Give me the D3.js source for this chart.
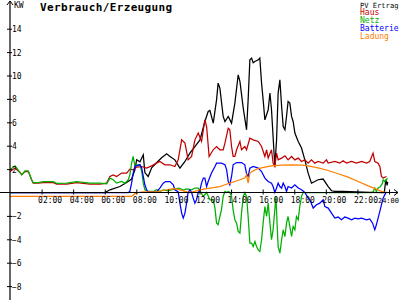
<!DOCTYPE html>
<html><head><meta charset="utf-8">
<script src="https://cdn.jsdelivr.net/npm/d3@7"></script>
<style>
html,body{margin:0;padding:0;background:#fff;overflow:hidden;}
svg{display:block;}
text{font-family:"DejaVu Sans Mono",monospace;}
</style></head>
<body>
<script>
// ---- data (hours, kW) ----
const seriesNames = ["PV Ertrag","Haus","Netz","Batterie","Ladung"];
const xTickHours = [2,4,6,8,10,12,14,16,18,20,22,24];
const xTickLabels = ["02:00","04:00","06:00","08:00","10:00","12:00","14:00","16:00","18:00","20:00","22:00","24:00"];
const yTickValues = [14,12,10,8,6,4,2,-2,-4,-6,-8];

const pvHours = [0,6.0,6.33,6.96,7.39,7.70,7.91,8.02,8.23,8.44,8.54,8.75,8.97,9.28,9.60,9.92,10.13,10.44,10.76,11.08,11.39,11.71,12.03,12.34,12.55,12.66,12.87,13.08,13.18,13.29,13.50,13.61,13.82,14.03,14.24,14.45,14.56,14.77,14.98,15.08,15.19,15.30,15.40,15.51,15.72,15.82,15.93,16.03,16.14,16.35,16.46,16.56,16.66,16.77,16.88,16.98,17.09,17.20,17.30,17.41,17.51,17.61,17.72,17.83,17.93,18.04,18.25,18.46,18.67,18.88,19.09,19.30,19.51,19.83,20.15,20.36,20.57,21.09,22.78,23.70,23.80,23.88,23.92];
const pvKw    = [0,0,0.23,0.51,0.85,1.15,1.94,2.80,2.62,3.22,1.70,1.37,2.11,2.54,2.97,3.31,3.08,2.79,2.09,2.65,3.37,3.93,4.50,6.07,6.92,7.01,5.93,7.92,9.35,8.92,6.50,6.07,6.50,5.93,7.64,10.06,9.49,7.21,5.36,7.92,11.34,11.49,11.09,11.20,11.34,11.49,9.35,7.92,6.21,7.07,8.50,7.07,4.79,2.22,4.50,8.50,9.63,7.35,5.64,5.36,6.50,7.78,7.64,6.50,6.07,5.08,4.36,3.80,2.79,1.66,0.80,0.94,1.09,1.15,0.51,0.15,0.09,0.09,0.02,0,1.1,0.6,0.9];

const hausHours = [0,0.32,0.63,0.74,0.95,1.16,1.37,1.47,1.79,2.11,2.74,2.96,3.59,4.22,5.06,5.70,6.12,6.33,6.54,6.75,7.07,7.39,7.59,7.80,8.02,8.34,8.65,8.97,9.28,9.49,9.81,10.13,10.44,10.65,10.87,11.08,11.28,11.50,11.71,11.92,12.13,12.34,12.45,12.61,12.87,13.08,13.29,13.50,13.61,13.82,13.92,14.03,14.13,14.24,14.35,14.56,14.66,14.87,14.98,15.19,15.40,15.72,15.93,16.14,16.25,16.35,16.56,16.66,16.77,16.88,16.98,17.20,17.41,17.61,17.83,18.04,18.25,18.46,18.67,18.88,19.09,19.30,19.51,19.83,20.04,20.15,20.57,20.89,21.09,21.31,21.63,21.94,22.26,22.58,22.78,22.99,23.10,23.31,23.42,23.52,23.63,23.84];
const hausKw    = [1.79,2.09,1.71,1.51,1.79,1.79,1.09,0.80,0.80,0.85,0.85,0.72,0.72,0.85,0.72,0.72,0.80,1.37,1.51,1.37,1.66,1.66,2.00,1.94,2.17,2.22,2.09,2.28,2.51,2.65,2.37,2.37,2.22,2.79,4.50,4.22,2.79,3.08,4.50,5.08,4.36,6.21,5.64,3.08,3.65,3.93,3.65,3.65,4.22,5.50,5.36,3.93,3.08,3.08,3.65,4.36,3.65,3.93,3.65,4.65,4.50,4.36,3.93,3.08,3.65,2.94,3.65,2.51,2.22,3.37,2.79,2.94,3.14,2.79,3.08,2.79,2.94,2.65,2.79,2.51,2.79,2.51,2.65,2.51,2.79,2.51,2.65,2.51,2.71,2.51,2.65,2.51,2.65,2.51,2.65,3.37,2.65,2.51,2.22,1.37,1.23,1.37];

const netzHours = [0,0.32,0.63,0.74,0.95,1.16,1.37,1.47,1.79,2.11,2.74,2.96,3.59,4.22,5.06,5.70,6.12,6.33,6.54,6.75,7.07,7.28,7.49,7.59,7.70,7.80,7.91,8.02,8.23,8.34,8.44,8.54,8.75,9.07,9.28,9.49,9.70,10.0,10.44,10.70,10.97,11.18,11.50,11.71,11.92,12.03,12.24,12.45,12.66,12.87,12.98,13.08,13.18,13.29,13.39,13.50,13.61,13.72,13.82,13.92,14.03,14.13,14.24,14.35,14.45,14.56,14.66,14.77,14.87,14.98,15.08,15.19,15.30,15.40,15.51,15.61,15.72,15.82,15.93,16.03,16.14,16.25,16.35,16.46,16.56,16.66,16.77,16.84,16.92,16.98,17.09,17.20,17.30,17.41,17.51,17.61,17.72,17.83,17.93,18.04,18.14,18.25,18.35,18.46,18.56,22.89,22.99,23.10,23.20,23.31,23.42,23.52,23.59,23.63,23.73,23.84,23.90];
const netzKw    = [1.94,2.28,1.71,1.51,1.85,1.85,1.09,0.85,0.85,0.92,0.92,0.78,0.80,0.92,0.80,0.80,0.74,1.23,1.09,0.80,0.94,0.80,1.09,1.51,2.51,3.08,2.22,2.37,2.37,1.80,0.80,0.23,0.09,0.09,0.23,0.09,0.23,0.15,0.30,0.38,0.20,0.30,0.23,0.38,0.38,0.15,-0.34,0.0,-0.62,-0.62,-1.33,-2.62,-2.76,-2.05,-1.48,-0.34,0.09,0.0,0.09,0.0,-0.34,-1.48,-2.33,-2.62,-3.33,-3.47,-1.76,-0.34,0.0,-0.34,-2.05,-4.33,-4.33,-4.62,-4.19,-4.62,-4.90,-5.04,-4.04,-2.62,-1.20,-2.05,-0.91,-2.62,-4.04,-3.19,-1.48,-0.34,-2.90,-4.62,-5.18,-4.04,-3.19,-3.76,-2.62,-2.05,-2.90,-3.76,-2.90,-3.19,-2.05,-2.33,-1.20,-0.34,0.0,0.0,0.05,0.38,0.09,0.38,0.46,0.66,0.80,1.09,0.94,1.09,1.23];

const battHours = [0,7.50,7.59,7.70,7.80,7.91,8.02,8.23,8.34,8.44,8.54,8.65,8.75,9.28,9.49,9.70,9.86,10.13,10.34,10.44,10.65,10.76,10.87,10.97,11.08,11.18,11.28,11.39,11.50,11.60,11.71,11.81,11.92,12.03,12.13,12.24,12.34,12.45,12.55,12.76,12.98,13.08,13.39,13.61,13.72,13.82,13.92,14.03,14.13,14.35,14.66,14.87,14.98,15.08,15.19,15.40,15.72,15.93,16.14,16.35,16.56,16.66,16.77,16.88,16.98,17.09,17.20,17.30,17.41,17.51,17.61,17.83,18.04,18.25,18.46,18.67,18.88,18.99,19.20,19.41,19.62,19.83,19.94,20.15,20.36,20.57,20.78,20.99,21.20,21.41,21.63,21.84,22.04,22.26,22.58,22.78,22.96,23.10,23.20,23.31,23.42,23.52,23.63,23.73,23.84];
const battKw    = [0,0,0.10,0.80,1.66,2.22,2.30,2.37,2.10,1.37,0.66,0.23,0.05,0.05,0.38,0.80,0.94,0.94,0.66,0.23,0.05,-0.91,-1.76,-2.19,-1.76,-0.91,0.0,0.23,0.0,-0.48,-0.91,-0.62,0.0,0.23,0.80,1.23,1.23,0.51,0.94,1.66,2.22,2.51,2.51,2.37,1.94,0.94,0.66,1.37,2.37,2.56,2.56,2.37,1.60,1.37,2.08,2.22,2.08,1.79,1.23,0.94,0.80,0.51,0.0,0.38,0.80,0.51,0.38,0.80,0.51,0.09,0.51,0.38,0.66,0.38,0.23,0.0,-0.48,-0.62,-1.33,-1.05,-0.91,-0.62,-1.20,-1.33,-1.76,-2.19,-2.10,-2.33,-2.10,-2.19,-2.33,-2.19,-2.26,-2.19,-2.33,-2.26,-2.62,-3.19,-2.76,-2.19,-1.62,-1.05,-0.48,-0.20,0.05];

const ladHours = [0,7.70,7.91,8.12,8.44,9.28,9.70,10.13,10.44,10.76,11.08,11.39,11.71,12.03,12.34,12.66,12.98,13.29,13.61,13.92,14.24,14.56,14.87,14.98,15.08,15.19,15.40,15.72,16.14,16.56,17.20,17.83,18.46,18.88,19.51,20.15,20.78,21.41,22.04,22.68,23.20,23.52,23.84];
const ladKw    = [-0.34,-0.34,-0.10,0.0,0.05,0.05,0.17,0.29,0.33,0.23,0.09,0.0,0.09,0.23,0.30,0.38,0.43,0.51,0.66,0.80,0.94,1.09,1.23,1.51,0.80,1.66,1.85,2.05,2.17,2.28,2.35,2.37,2.33,2.28,2.10,1.88,1.60,1.32,0.94,0.57,0.29,0.09,0.0];

// ---- styles ----
const colors = {"PV Ertrag":"#000000","Haus":"#c00000","Netz":"#00b000","Batterie":"#0000ff","Ladung":"#ff8000"};

const W = 400, H = 300;
const svg = d3.select("body").append("svg").attr("width", W).attr("height", H);
svg.append("rect").attr("width", W).attr("height", H).attr("fill", "#fff");

const x = d3.scaleLinear().domain([0, 24]).range([10, 389]);
const y = d3.scaleLinear().domain([0, 14]).range([192.5, 28.7]);

const seriesData = [
  {name:"PV Ertrag", t:pvHours, v:pvKw},
  {name:"Haus", t:hausHours, v:hausKw},
  {name:"Netz", t:netzHours, v:netzKw},
  {name:"Batterie", t:battHours, v:battKw},
  {name:"Ladung", t:ladHours, v:ladKw}
];

const line = d3.line().x(d => x(d[0])).y(d => y(d[1]));

// data lines
const gLines = svg.append("g");
seriesData.forEach(s => {
  const pts = s.t.map((t, i) => [t, s.v[i]]);
  gLines.append("path").datum(pts)
    .attr("d", line)
    .attr("fill", "none")
    .attr("stroke", colors[s.name])
    .attr("stroke-width", 1.25)
    .attr("stroke-linejoin", "miter");
});

// x axis
const y0 = y(0);
svg.append("line").attr("x1", 0).attr("x2", 398).attr("y1", y0).attr("y2", y0)
  .attr("stroke", "#000").attr("stroke-width", 1.2);
svg.append("path").attr("d", `M394,${y0-3}L398,${y0}L394,${y0+3}`)
  .attr("fill", "none").attr("stroke", "#000").attr("stroke-width", 1);

const xAxis = d3.axisBottom(x).tickValues(xTickHours)
  .tickFormat((d, i) => xTickLabels[i]).tickSize(2).tickPadding(0);
const gx = svg.append("g").attr("transform", `translate(0,${y0})`).call(xAxis);
gx.select(".domain").remove();
gx.selectAll(".tick line").attr("y1", -3).attr("y2", 2).attr("stroke", "#000");
gx.selectAll(".tick text").attr("text-anchor", "start").attr("x", -4).attr("y", 10).attr("dy", 0)
  .attr("font-size", 8).attr("font-family", "DejaVu Sans Mono").attr("fill", "#000");
// last label kept inside the picture
gx.selectAll(".tick text").filter(d => d === 24)
  .attr("text-anchor", "end").attr("x", 9.5).attr("font-size", 7);

// y axis
svg.append("line").attr("x1", 10).attr("x2", 10).attr("y1", 1).attr("y2", 300)
  .attr("stroke", "#000").attr("stroke-width", 1.2);
svg.append("path").attr("d", "M7,5L10,1L13,5")
  .attr("fill", "none").attr("stroke", "#000").attr("stroke-width", 1);

const yAxis = d3.axisRight(y).tickValues(yTickValues).tickFormat(d3.format("d")).tickSize(2).tickPadding(0);
const gy = svg.append("g").attr("transform", "translate(10,0)").call(yAxis);
gy.select(".domain").remove();
gy.selectAll(".tick line").attr("x1", -3).attr("x2", 2).attr("stroke", "#000");
gy.selectAll(".tick text").attr("x", 2).attr("dy", 3)
  .attr("font-size", 8).attr("font-family", "DejaVu Sans Mono").attr("fill", "#000");

svg.append("text").attr("x", 14).attr("y", 8).attr("font-size", 8).text("KW");

// title
svg.append("text").attr("x", 40).attr("y", 11)
  .attr("font-size", 11).attr("font-weight", "bold").attr("letter-spacing", 0.35)
  .text("Verbrauch/Erzeugung");

// legend
const lg = svg.append("g");
seriesNames.forEach((n, i) => {
  lg.append("text").attr("x", 360).attr("y", 7.5 + i * 7.8)
    .attr("font-size", n.length > 8 ? 7.1 : 8).attr("fill", colors[n]).text(n);
});
</script>
</body></html>
